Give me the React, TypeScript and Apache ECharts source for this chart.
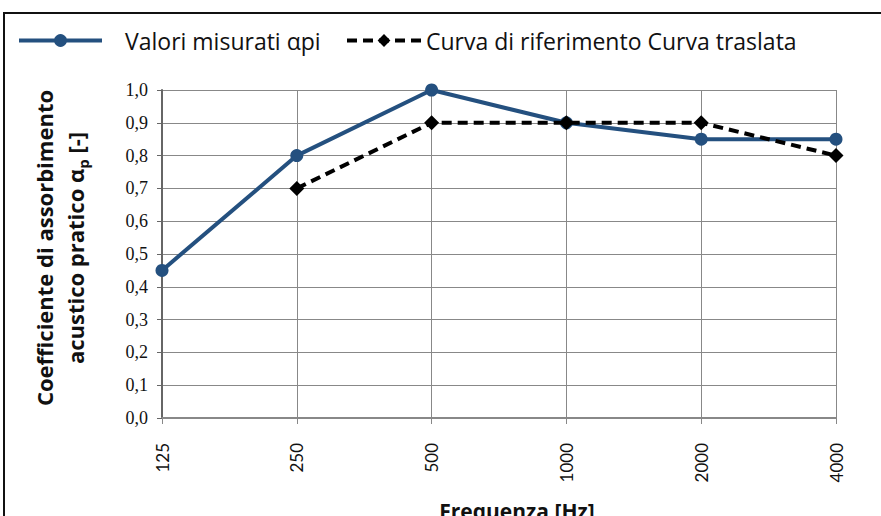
import React, { useEffect, useRef } from "react";
import * as echarts from "echarts";

const categories = ["125", "250", "500", "1000", "2000", "4000"];
const measured = [0.45, 0.8, 1.0, 0.9, 0.85, 0.85];
const reference = [null, 0.7, 0.9, 0.9, 0.9, 0.8];
const yTicks = [0, 0.1, 0.2, 0.3, 0.4, 0.5, 0.6, 0.7, 0.8, 0.9, 1.0];

const seriesNames = ["Valori misurati \u03B1pi", "Curva di riferimento Curva traslata"];

export default function App() {
  const ref = useRef<HTMLDivElement>(null);
  useEffect(() => {
    if (!ref.current) return;
    const chart = echarts.init(ref.current, null, { renderer: "svg" });
    const blue = "#24507f";
    const font = "Open Sans";
    chart.setOption({
      animation: false,
      backgroundColor: "#ffffff",
      grid: { left: 162, right: 45, top: 90, bottom: 98 },
      legend: [
        {
          data: [seriesNames[0]],
          left: 12,
          top: 24,
          itemWidth: 83,
          itemHeight: 16,
          lineStyle: { width: 4 },
          textStyle: { fontFamily: font, fontSize: 23, color: "#111", padding: [0, 0, 0, 18] },
        },
        {
          data: [seriesNames[1]],
          left: 340,
          top: 24,
          itemWidth: 74,
          itemHeight: 16,
          lineStyle: { width: 4 },
          textStyle: { fontFamily: font, fontSize: 23, color: "#111", padding: [0, 0, 0, 0] },
        },
      ],
      xAxis: {
        type: "category",
        data: categories,
        boundaryGap: false,
        axisLine: { lineStyle: { color: "#888", width: 2 } },
        axisTick: { show: true, length: 6, lineStyle: { color: "#888" } },
        axisLabel: {
          rotate: 90,
          margin: 25,
          fontFamily: "Lato",
          fontSize: 17,
          color: "#111",
        },
        splitLine: { show: true, lineStyle: { color: "#888", width: 1 } },
      },
      yAxis: {
        type: "value",
        min: 0,
        max: 1,
        interval: 0.1,
        axisLine: { show: true, lineStyle: { color: "#666", width: 2 } },
        axisTick: { show: true, length: 5, lineStyle: { color: "#666" } },
        axisLabel: {
          margin: 14,
          fontFamily: "Liberation Sans Narrow",
          fontSize: 18,
          color: "#111",
          formatter: (v: number) => {
            const t = yTicks.find((x) => Math.abs(x - v) < 1e-9);
            return (t !== undefined ? t : v).toFixed(1).replace(".", ",");
          },
        },
        splitLine: { show: true, lineStyle: { color: "#888", width: 1 } },
      },
      series: [
        {
          name: seriesNames[0],
          type: "line",
          data: measured,
          symbol: "circle",
          symbolSize: 13,
          itemStyle: { color: blue },
          lineStyle: { color: blue, width: 4 },
          z: 3,
        },
        {
          name: seriesNames[1],
          type: "line",
          data: reference,
          symbol: "diamond",
          symbolSize: 15,
          itemStyle: { color: "#000" },
          lineStyle: { color: "#000", width: 4, type: [10, 6] },
          z: 4,
        },
      ],
      graphic: [
        {
          type: "rect",
          shape: { x: 4, y: 13, width: 900, height: 600 },
          style: { fill: "none", stroke: "#111", lineWidth: 2 },
          z: -1,
        },
        {
          type: "text",
          x: 59,
          y: 248,
          rotation: Math.PI / 2,
          style: {
            text: "{b|Coefficiente di assorbimento}\n{b|acustico pratico \u03B1}{s|p}{b| [-]}",
            align: "center",
            verticalAlign: "middle",
            rich: {
              b: { fontFamily: font, fontWeight: "bold", fontSize: 22, lineHeight: 31, fill: "#111" },
              s: { fontFamily: font, fontWeight: "bold", fontSize: 15, lineHeight: 31, fill: "#111", verticalAlign: "bottom", padding: [8, 0, 0, 0] },
            },
          },
        },
        {
          type: "text",
          x: 517,
          y: 511,
          style: {
            text: "Frequenza [Hz]",
            align: "center",
            verticalAlign: "middle",
            fontFamily: font,
            fontWeight: "bold",
            fontSize: 21,
            fill: "#111",
          },
        },
      ],
    });
    return () => chart.dispose();
  }, []);
  return (
    <div
      ref={ref}
      style={{ position: "fixed", left: 0, top: 0, width: 881, height: 516 }}
    />
  );
}
